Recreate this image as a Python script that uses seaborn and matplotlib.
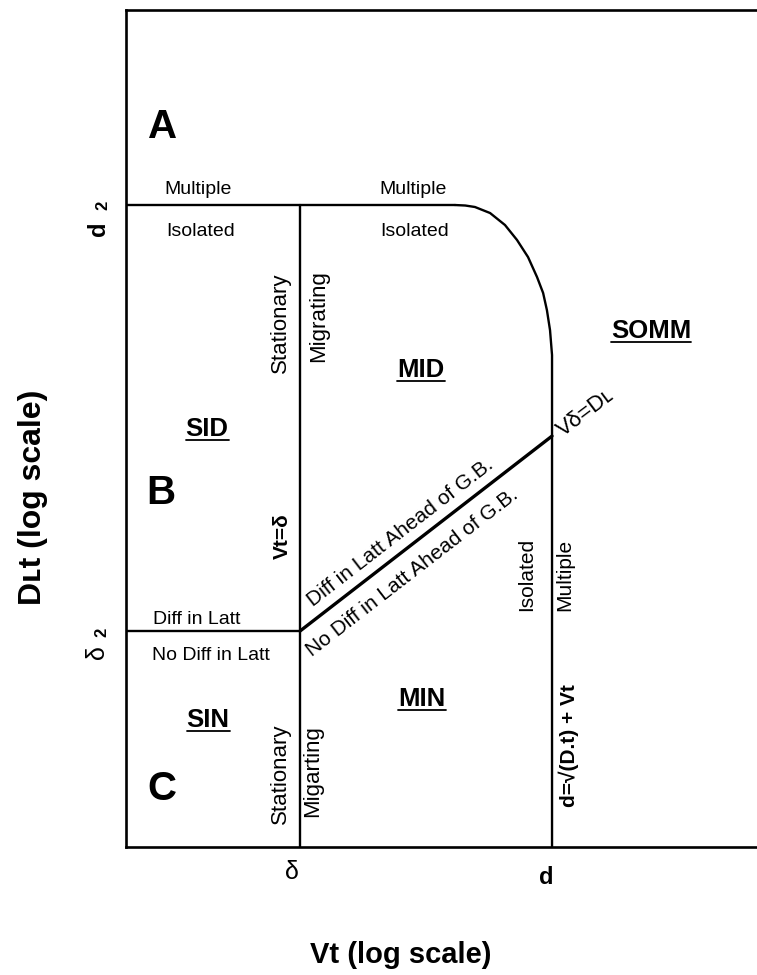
import numpy as np
import pandas as pd
import matplotlib
matplotlib.use("Agg")
import matplotlib.pyplot as plt
import seaborn as sns
from matplotlib.lines import Line2D

# ---------------- data (log-log diagram, delta = 1, d = 30) ----------------
delta_vt = 1.0          # Vt = delta
d_vt = 30.0             # Vt = d
delta2_dt = 1.0         # Dt = delta^2
d2_dt = 900.0           # Dt = d^2
vd_dt = 22.5            # Dt where V*delta = D_L meets Vt = d
vt_min, vt_max = 0.0955, 477.0
dt_min, dt_max = 0.0318, 20260.0

# rounded boundary d = sqrt(Dt) + Vt
curve_vt = [8.1, 9.3, 10.6, 13.0, 15.9, 18.7, 21.7, 24.5, 26.6, 28.0, 29.2, 30.0, 30.0]
curve_dt = [900, 893, 872, 792, 654, 515, 392, 285, 221, 168, 122, 82, 0.0318]

x_tick_labels = ["δ", "d"]
y_tick_labels = ["δ", "d"]

seg_names = ["top_h", "delta_v", "delta2_h", "curve"]
segments = {
    "top_h": ([vt_min, curve_vt[0]], [d2_dt, d2_dt]),
    "delta_v": ([delta_vt, delta_vt], [dt_min, d2_dt]),
    "delta2_h": ([vt_min, delta_vt], [delta2_dt, delta2_dt]),
    "curve": (curve_vt, curve_dt),
}
diag_vt = [delta_vt, d_vt]
diag_dt = [delta2_dt, vd_dt]

rows = []
for name in seg_names:
    xs, ys = segments[name]
    for i, (x, y) in enumerate(zip(xs, ys)):
        rows.append({"seg": name, "order": i, "Vt": x, "Dt": y})
df = pd.DataFrame(rows)
df_diag = pd.DataFrame({"seg": ["diag", "diag"], "order": [0, 1], "Vt": diag_vt, "Dt": diag_dt})

# ---------------- figure ----------------
sns.set_theme(style="white")
plt.rcParams["font.family"] = ["Liberation Sans", "DejaVu Sans"]

W, H = 757, 975
fig = plt.figure(figsize=(W / 100, H / 100), dpi=100)
ax = fig.add_axes([126 / W, 1 - 847 / H, 1 - 126 / W, (847 - 10) / H])
ax.set_xscale("log")
ax.set_yscale("log")

sns.lineplot(data=df, x="Vt", y="Dt", units="seg", estimator=None, sort=False,
             color="black", linewidth=1.7, ax=ax, legend=False)
sns.lineplot(data=df_diag, x="Vt", y="Dt", units="seg", estimator=None, sort=False,
             color="black", linewidth=2.4, ax=ax, legend=False)

ax.set_xlim(vt_min, vt_max)
ax.set_ylim(dt_min, dt_max)
for s in ["left", "bottom", "top"]:
    ax.spines[s].set_color("black")
    ax.spines[s].set_linewidth(1.9)
ax.spines["right"].set_visible(False)

ax.minorticks_off()
ax.set_xticks([delta_vt, d_vt], ["", ""])
ax.tick_params(axis="x", length=0)
ax.set_yticks([delta2_dt, d2_dt], ["", ""])
ax.tick_params(axis="y", length=3, width=1, color="black", direction="out")
ax.set_xlabel("")
ax.set_ylabel("")


def P(px, py):
    return (px / W, 1 - py / H)


def txt(px, py, s, size=14, rot=0, weight="normal", va="center", ha="center"):
    return fig.text(*P(px, py), s, fontsize=size, rotation=rot, fontweight=weight,
                    ha=ha, va=va, rotation_mode="anchor", color="black")


# tick labels (placed like the reference)
txt(292, 872, x_tick_labels[0], size=18)
txt(546, 877, x_tick_labels[1], size=17, weight="bold")
txt(99, 229, y_tick_labels[1], size=17, rot=90, weight="bold")
txt(103, 205, "2", size=12, rot=90, weight="bold")
txt(97, 652, y_tick_labels[0], size=18, rot=90)
txt(102, 632, "2", size=12, rot=90, weight="bold")

# axis titles
txt(401, 955, "Vt (log scale)", size=21, weight="bold")
txt(33, 497, "Dʟt (log scale)", size=23, rot=90, weight="bold")

# big region letters
txt(163, 127, "A", size=29, weight="bold")
txt(161, 493, "B", size=29, weight="bold")
txt(162, 789, "C", size=29, weight="bold")

# horizontal labels
txt(198, 190, "Multiple")
txt(201, 232, "Isolated")
txt(413, 190, "Multiple")
txt(415, 232, "Isolated")
txt(197, 619, "Diff in Latt")
txt(211, 656, "No Diff in Latt")

# vertical labels
txt(280, 323, "Stationary", size=16, rot=90)
txt(319, 316, "Migrating", size=16, rot=90)
txt(280, 774, "Stationary", size=16, rot=90)
txt(313, 771, "Migarting", size=16, rot=90)
txt(282, 536, "Vt=δ", size=15, rot=90, weight="bold")
txt(527, 574, "Isolated", size=15, rot=90)
txt(565, 575, "Multiple", size=15, rot=90)
txt(569, 746, "d=√(D.t) + Vt", size=15, rot=90, weight="bold")

# diagonal labels
txt(400, 533, "Diff in Latt Ahead of G.B.", size=15, rot=37.7)
txt(412, 573, "No Diff in Latt Ahead of G.B.", size=15, rot=37.7)
txt(586, 413, "Vδ=Dʟ", size=16, rot=37)

# underlined regime names (baseline placement)
regimes = [("SID", 207, 436), ("MID", 421, 377), ("SOMM", 651, 338),
           ("SIN", 208, 727), ("MIN", 422, 706)]
reg_texts = [txt(x, y, s, size=18.5, weight="bold", va="baseline") for s, x, y in regimes]

fig.canvas.draw()
r = fig.canvas.get_renderer()
for t in reg_texts:
    bb = t.get_window_extent(r)
    bx, by = t.get_position()
    yb = by - 4 / H
    fig.add_artist(Line2D([bb.x0 / W, bb.x1 / W], [yb, yb], transform=fig.transFigure,
                          color="black", linewidth=1.3))

fig.savefig("out.png", dpi=100, facecolor="white")
